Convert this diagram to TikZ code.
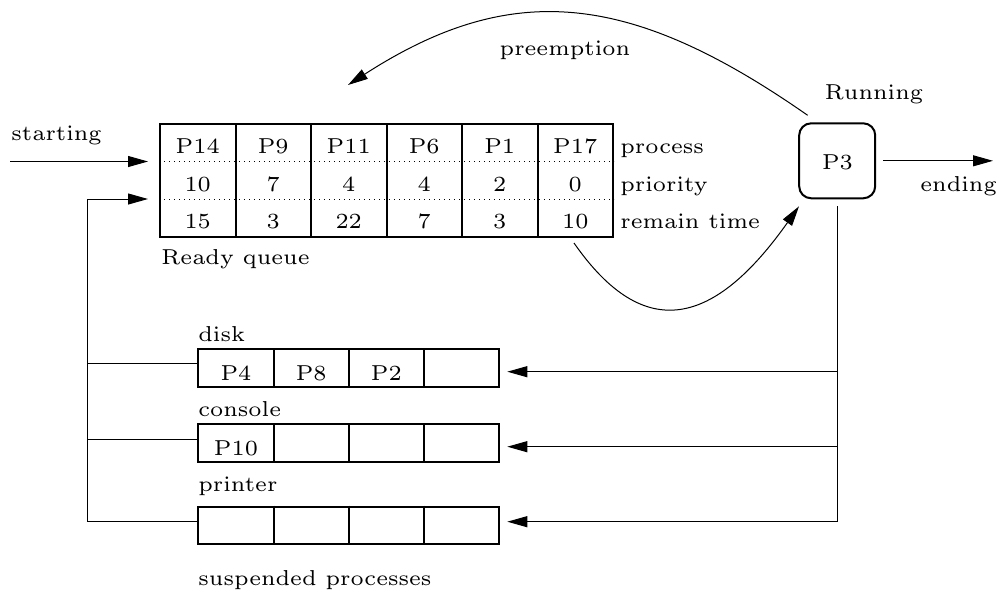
\documentclass[tikz,border=0pt]{standalone}
\usetikzlibrary{arrows.meta}
% wide, heavy Computer Modern cut used for every label
\font\lblfont=cmr6 at 10.8pt
\begin{document}
\begin{tikzpicture}[x=0.5pt,y=-0.5pt,
  every node/.style={font=\lblfont,inner sep=0pt},
  boxline/.style={line width=1pt},
  wire/.style={line width=0.5pt},
  arr/.style={wire,-{Triangle[length=10pt,width=5.5pt]}},
  cell/.style={anchor=base},
  lbl/.style={anchor=base west},
  frame/.style={boxline,draw,minimum width=150.5pt,minimum height=18.7pt},
  readyframe/.style={boxline,draw,minimum width=226.5pt,minimum height=56.75pt},
  runbox/.style={boxline,draw,rounded corners=6pt,minimum width=38pt,
    minimum height=37.5pt,outer sep=4pt}]
\useasboundingbox (0,0) rectangle (998,596);

% ---------------- ready queue ----------------
\node[readyframe] (rq) at (386.5,180.25) {};
\foreach \x in {235.5,311,386.5,462,537.5}
  \draw[boxline] (\x,123.5) -- (\x,237);
\draw[wire,dotted] (rq.west |- 0,161.5) -- (rq.east |- 0,161.5);
\draw[wire,dotted] (rq.west |- 0,199) -- (rq.east |- 0,199);

\foreach \p/\r/\t [count=\i] in {P14/10/15,P9/7/3,P11/4/22,P6/4/7,P1/2/3,P17/0/10}{
  \pgfmathsetmacro{\cx}{160+75.5*(\i-0.5)}
  \node[cell] (proc\i) at (\cx,153.3) {\p};
  \node[cell] (prio\i) at (\cx,191) {\r};
  \node[cell] (rem\i)  at (\cx,228.3) {\t};
}
\node[lbl] (lproc) at (620,153.3) {process};
\node[lbl] (lprio) at (620,191) {priority};
\node[lbl] (lrem)  at (620,228.3) {remain time};
\node[lbl] (lready) at (161,264) {Ready queue};
\node[lbl] (lstart) at (11,140) {starting};

% ---------------- running process ----------------
\node[runbox] (P3) at (837.2,160.8) {};
\node[cell] (p3txt) at (837.5,169) {P3};
\node[anchor=base] (lrun) at (874,99.3) {Running};
\node[lbl] (lend) at (920,191.5) {ending};
\node[anchor=base] (lpre) at (565,55) {preemption};

% ---------------- suspended queues ----------------
\node[frame] (disk)    at (348.8,368)   {};
\node[frame] (console) at (348.8,443)   {};
\node[frame] (printer) at (348.8,525.3) {};
\foreach \q in {disk,console,printer}
  \foreach \x in {273.6,348.8,424}
    \draw[boxline] (\x,0 |- \q.north) -- (\x,0 |- \q.south);
\node[cell] (s1) at (236,380) {P4};
\node[cell] (s2) at (311.2,380) {P8};
\node[cell] (s3) at (386.4,380) {P2};
\node[cell] (s4) at (236,455) {P10};
\node[lbl] (ldisk)    at (198,341.7) {disk};
\node[lbl] (lconsole) at (198,416.7) {console};
\node[lbl] (lprinter) at (198,491.7) {printer};
\node[lbl] (lsusp)    at (198,585) {suspended processes};

% ---------------- connector end points ----------------
\coordinate (startin) at (10,161.5);
\coordinate (startto) at (148,161.5);
\coordinate (backto)  at (148,199);
\coordinate (loopx)   at (87,199);
\coordinate (endto)   at (993,160.8);
\coordinate (preto)   at (348,85);
\coordinate (dispfrom) at (574,243);
\coordinate (busd) at (837.2,371.7);
\coordinate (busc) at (837.2,446.7);
\coordinate (busp) at (837.2,521.7);
\coordinate (retd) at (87,363.3);
\coordinate (retc) at (87,439);
\coordinate (retp) at (87,521.7);

% ---------------- connectors ----------------
\draw[arr] (startin) -- (startto);
\draw[arr] (retp) -- (loopx) -- (backto);
\draw[wire] (retd) -- (disk.west |- retd);
\draw[wire] (retc) -- (console.west |- retc);
\draw[wire] (retp) -- (printer.west |- retp);

\draw[arr] (P3.east |- endto) -- (endto);
\draw[arr] (P3.123) .. controls (631,-8) and (512,-21) .. (preto);
\draw[arr] (dispfrom) .. controls (645,345) and (715,325) .. (P3.230);

\draw[wire] (P3.south) -- (busp);
\draw[arr] (busd) -- ([xshift=3.5pt]disk.east |- busd);
\draw[arr] (busc) -- ([xshift=3.5pt]console.east |- busc);
\draw[arr] (busp) -- ([xshift=3.5pt]printer.east |- busp);
\end{tikzpicture}
\end{document}
